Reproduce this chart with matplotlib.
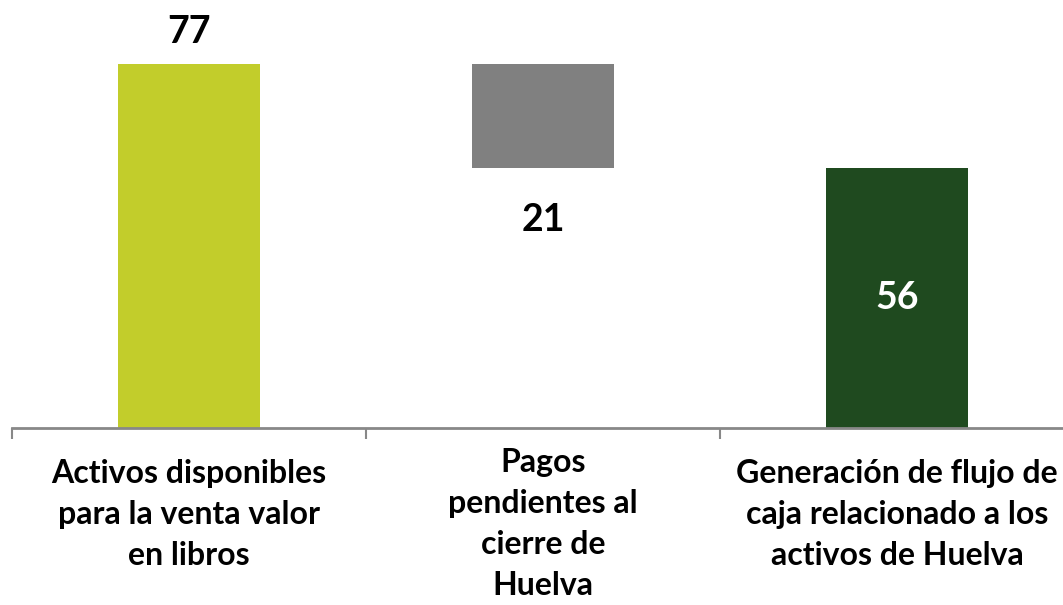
import matplotlib.pyplot as plt

# data
categories = ["Activos disponibles\npara la venta valor\nen libros",
              "Pagos\npendientes al\ncierre de\nHuelva",
              "Generación de flujo de\ncaja relacionado a los\nactivos de Huelva"]
bar_bottoms = [0, 55, 0]
bar_heights = [77, 22, 55]
value_labels = ["77", "21", "56"]
label_y = [83.7, 44.0, 27.5]
label_colors = ["black", "black", "white"]
bar_colors = ["#C2CD2B", "#808080", "#1F4A1F"]
cat_label_offsets = [-0.072, -0.047, -0.072]

plt.rcParams['font.family'] = ['Lato', 'DejaVu Sans']

fig = plt.figure(figsize=(10.63, 6.05), dpi=100)
W, H = 1063, 605
ax = fig.add_axes([12 / W, 1 - 428 / H, 1062 / W, 428 / H])

x = range(len(categories))
ax.bar(x, bar_heights, bottom=bar_bottoms, width=0.40, color=bar_colors)

ax.set_xlim(-0.5, 2.5)
ax.set_ylim(0, 77 * 428 / (428 - 64))

# value labels
for i, (lab, yy, c) in enumerate(zip(value_labels, label_y, label_colors)):
    ax.text(i, yy, lab, ha='center', va='center', fontsize=27,
            fontweight='bold', color=c)

for s in ['top', 'right', 'left']:
    ax.spines[s].set_visible(False)
ax.spines['bottom'].set_color('#888888')
ax.spines['bottom'].set_linewidth(2)
ax.set_yticks([])

ax.set_xticks([-0.5, 0.5, 1.5, 2.5])
ax.set_xticklabels([])
ax.tick_params(axis='x', length=8, width=1.5, color='#888888')

for i, lab in enumerate(categories):
    ax.text(i, cat_label_offsets[i], lab, transform=ax.get_xaxis_transform(),
            ha='center', va='top', fontsize=23, fontweight='bold', linespacing=1.5)

fig.savefig("out.png", dpi=100)
